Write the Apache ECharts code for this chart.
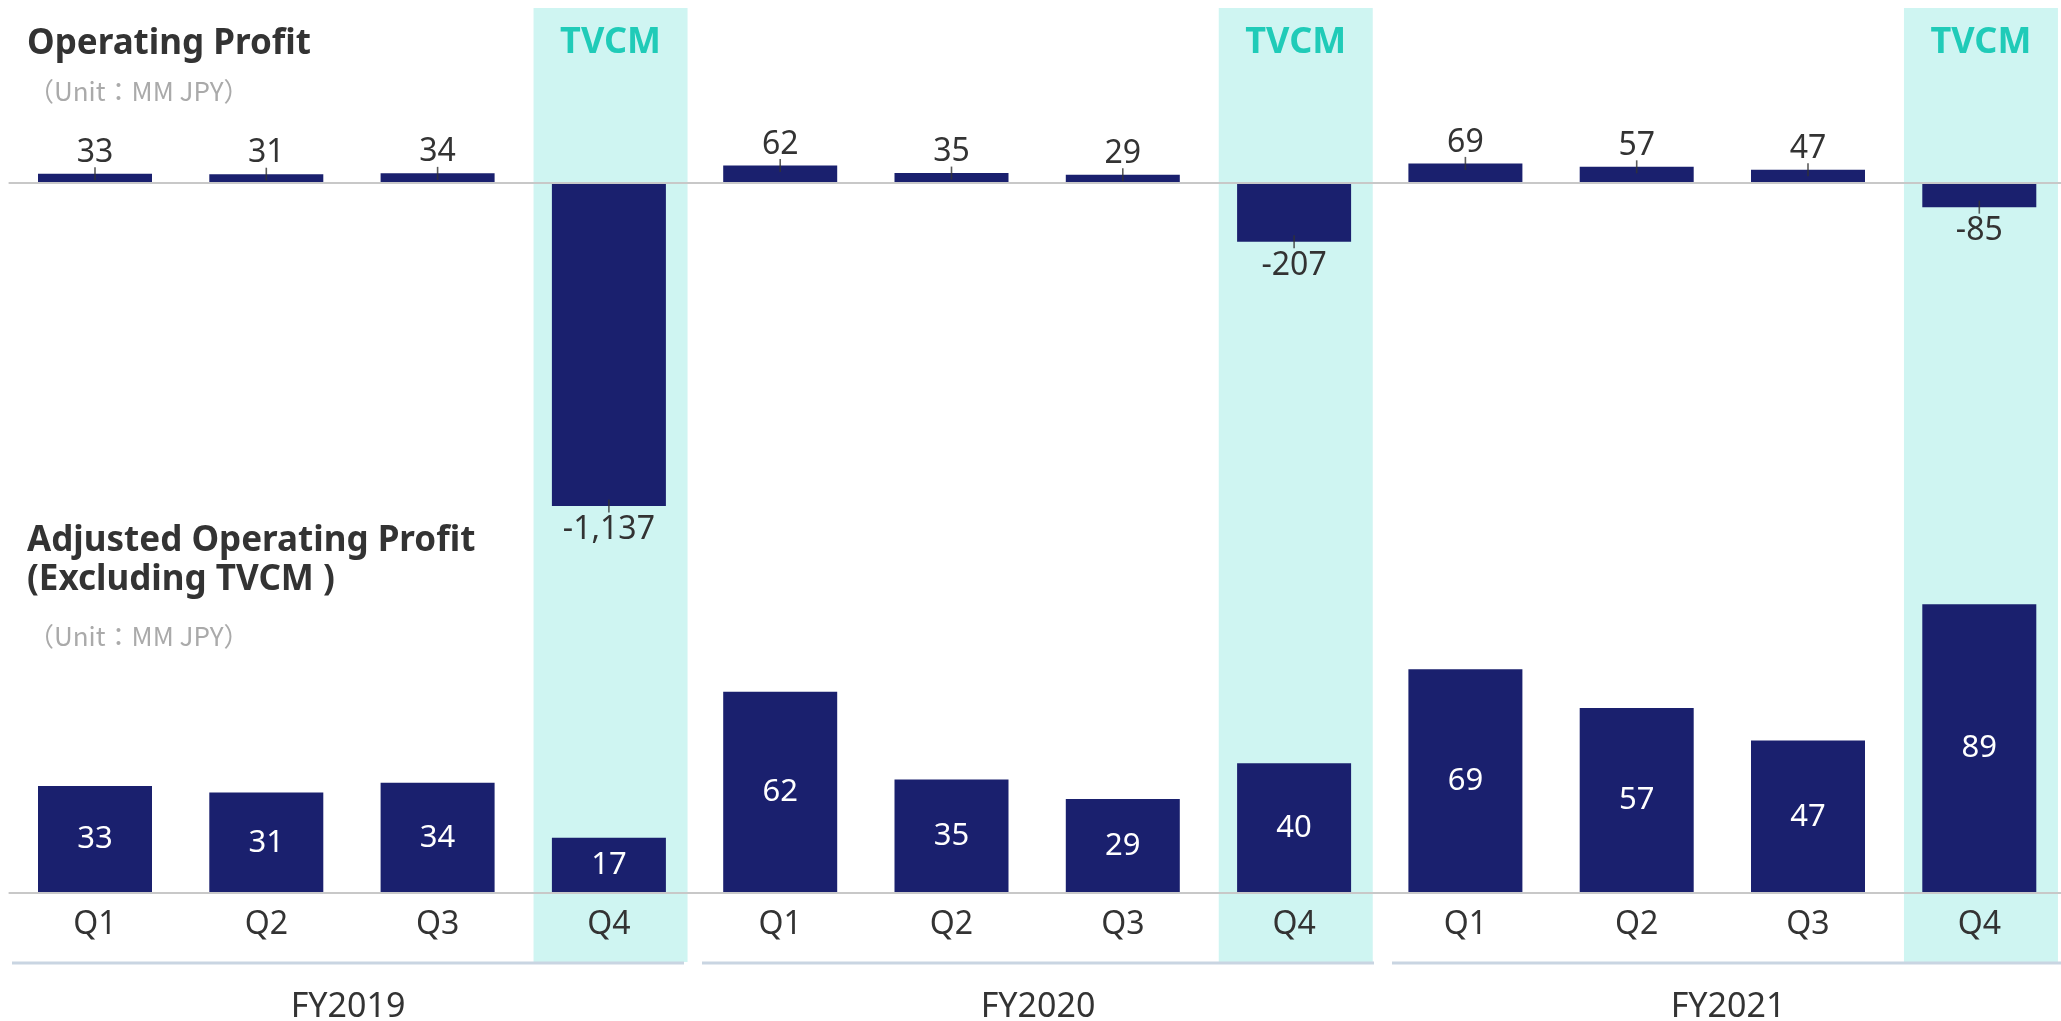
<!DOCTYPE html>
<html>
<head>
<meta charset="utf-8">
<style>
  html, body { margin: 0; padding: 0; background: #ffffff; }
  #chart { width: 2061px; height: 1021px; }
</style>
<script src="https://cdn.jsdelivr.net/npm/echarts@6/dist/echarts.min.js"></script>
</head>
<body>
<div id="chart"></div>
<script>
// ---------- data ----------
const categories = ['Q1', 'Q2', 'Q3', 'Q4', 'Q1', 'Q2', 'Q3', 'Q4', 'Q1', 'Q2', 'Q3', 'Q4'];
const fiscalYears = ['FY2019', 'FY2020', 'FY2021'];
const operatingProfit = [33, 31, 34, -1137, 62, 35, 29, -207, 69, 57, 47, -85];
const adjustedProfit = [33, 31, 34, 17, 62, 35, 29, 40, 69, 57, 47, 89];
const tvcmQuarter = [0, 0, 0, 1, 0, 0, 0, 1, 0, 0, 0, 1];
const fiscalYearLine = [1, 1, 1];
const titleTop = 'Operating Profit';
const titleBottom = ['Adjusted Operating Profit', '(Excluding TVCM )'];
const unitText = '（Unit：MM JPY）';
const bandText = 'TVCM';

// ---------- chart ----------
const NAVY = '#1a206e';
const FONT = '"Noto Sans", "Open Sans", sans-serif';
const fmt = v => Number(v).toLocaleString('en-US');

const chart = echarts.init(document.getElementById('chart'), null, { renderer: 'canvas', width: 2061, height: 1021 });

const opData = operatingProfit.map(v => ({
  value: v,
  label: { position: v < 0 ? 'bottom' : 'top', distance: v < 0 ? 8 : 5 }
}));

const option = {
  animation: false,
  backgroundColor: '#ffffff',
  grid: [
    { left: 9.35, width: 2055.6, top: 126.2, height: 397.7, outerBoundsMode: 'none', containLabel: false },
    { left: 9.35, width: 2055.6, top: 568.6, height: 324.4, outerBoundsMode: 'none', containLabel: false },
    { left: 11, width: 2055.6, top: 8, height: 954, outerBoundsMode: 'none', containLabel: false },
    { left: 3, width: 2070, top: 961.5, height: 3, outerBoundsMode: 'none', containLabel: false }
  ],
  xAxis: [
    { type: 'category', gridIndex: 0, data: categories, z: 4,
      axisLine: { lineStyle: { color: '#c8c8c8', width: 2 } },
      axisTick: { show: false }, axisLabel: { show: false } },
    { type: 'category', gridIndex: 1, data: categories, z: 4,
      axisLine: { lineStyle: { color: '#c8c8c8', width: 2 } },
      axisTick: { show: false },
      axisLabel: { fontSize: 32, color: '#333333', margin: 16, fontFamily: FONT } },
    { type: 'category', gridIndex: 2, data: categories, show: false },
    { type: 'category', gridIndex: 3, data: fiscalYears,
      axisLine: { show: false }, axisTick: { show: false },
      axisLabel: { fontSize: 34, color: '#333333', margin: 26, fontFamily: FONT } }
  ],
  yAxis: [
    { type: 'value', gridIndex: 0, min: -1200, max: 200, show: false },
    { type: 'value', gridIndex: 1, min: 0, max: 100, show: false },
    { type: 'value', gridIndex: 2, min: 0, max: 1, show: false },
    { type: 'value', gridIndex: 3, min: 0, max: 1, show: false }
  ],
  series: [
    {
      name: 'band', type: 'bar', xAxisIndex: 2, yAxisIndex: 2, z: 0, silent: true,
      barWidth: 154,
      data: tvcmQuarter.map(f => f ? 1 : '-'),
      itemStyle: { color: '#cff5f2' },
      label: {
        show: true, position: 'insideTop', distance: 17, formatter: bandText,
        fontSize: 36, fontWeight: 'bold', color: '#20cbb8', fontFamily: FONT
      }
    },
    {
      name: 'fyLine', type: 'bar', xAxisIndex: 3, yAxisIndex: 3, silent: true,
      barWidth: 672, data: fiscalYearLine,
      itemStyle: { color: '#c9d5e2' }
    },
    {
      name: 'Operating Profit', type: 'bar', xAxisIndex: 0, yAxisIndex: 0, z: 2,
      barWidth: 114, data: opData,
      itemStyle: { color: NAVY },
      label: {
        show: true, fontSize: 32, color: '#333333', fontFamily: FONT,
        formatter: p => fmt(p.value)
      }
    },
    {
      name: 'tick', type: 'scatter', xAxisIndex: 0, yAxisIndex: 0, z: 5, silent: true,
      symbol: 'rect', symbolSize: [1.6, 13],
      data: operatingProfit,
      itemStyle: { color: '#333333' }
    },
    {
      name: 'Adjusted Operating Profit', type: 'bar', xAxisIndex: 1, yAxisIndex: 1, z: 2,
      barWidth: 114, data: adjustedProfit,
      itemStyle: { color: NAVY },
      label: {
        show: true, position: 'inside', fontSize: 31, color: '#ffffff', fontFamily: FONT,
        formatter: p => fmt(p.value)
      }
    }
  ],
  graphic: [
    { type: 'text', left: 27, top: 27, z: 10,
      style: { text: titleTop, font: 'bold 35px "Noto Sans", sans-serif', fill: '#333333' } },
    { type: 'text', left: 28, top: 78, z: 10,
      style: { text: unitText, font: '26px "Noto Sans CJK JP", sans-serif', fill: '#aaaaaa' } },
    { type: 'text', left: 27, top: 524, z: 10,
      style: { text: titleBottom[0], font: 'bold 35px "Noto Sans", sans-serif', fill: '#333333' } },
    { type: 'text', left: 27, top: 563, z: 10,
      style: { text: titleBottom[1], font: 'bold 35px "Noto Sans", sans-serif', fill: '#333333' } },
    { type: 'text', left: 28, top: 623, z: 10,
      style: { text: unitText, font: '26px "Noto Sans CJK JP", sans-serif', fill: '#aaaaaa' } }
  ]
};

chart.setOption(option);
</script>
</body>
</html>
